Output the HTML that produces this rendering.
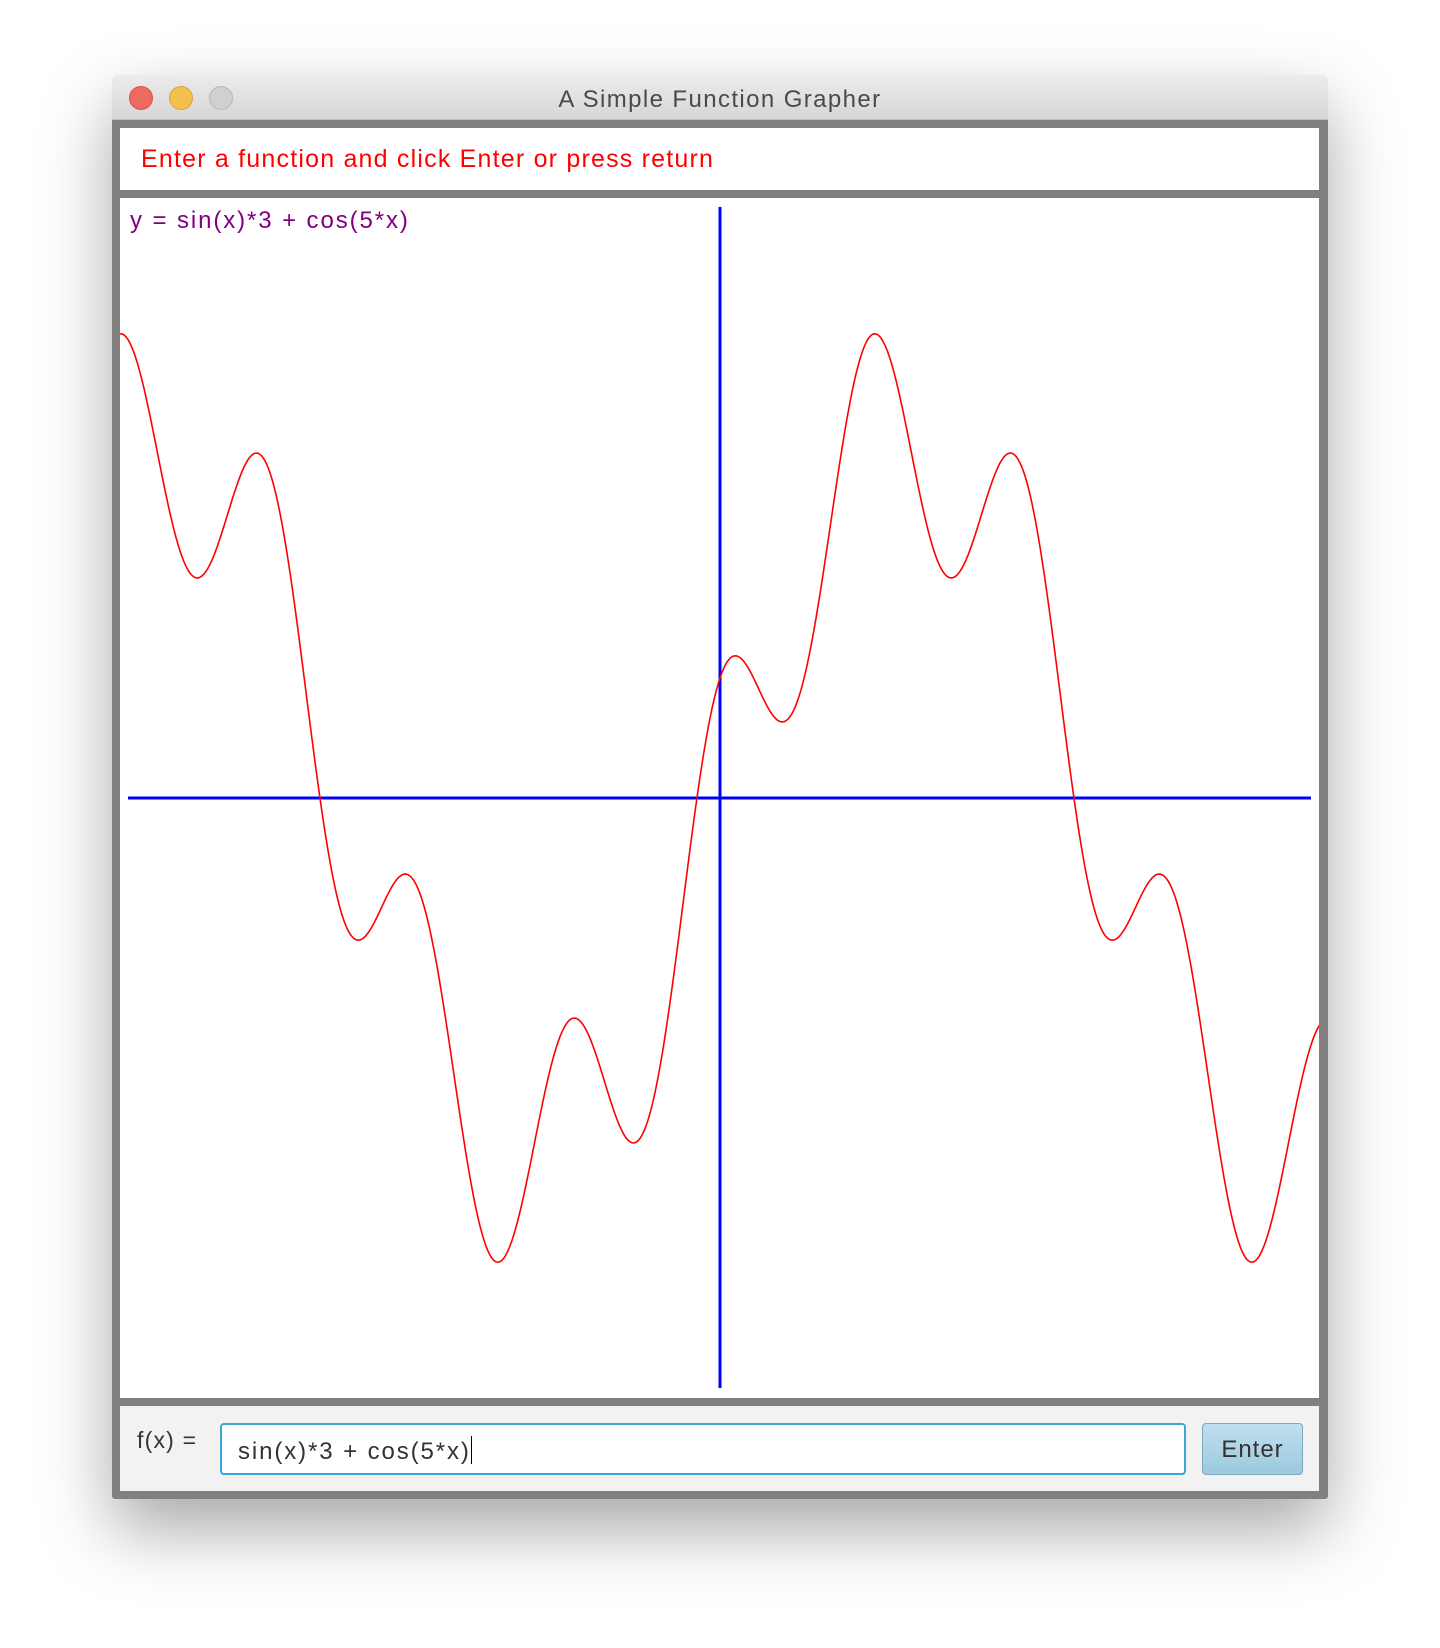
<!DOCTYPE html>
<html><head><meta charset="utf-8"><style>
body{margin:0;width:1440px;height:1648px;background:#fff;position:relative;overflow:hidden;font-family:"Liberation Sans",sans-serif}
#win{position:absolute;left:112px;top:75px;width:1216px;height:1424px;box-shadow:0 30px 70px rgba(0,0,0,0.35);border-radius:8px 8px 3px 3px;background:#808080}
#titlebar{position:absolute;left:0;top:0;width:1216px;height:44px;background:linear-gradient(#ececec,#d6d6d6);border-radius:8px 8px 0 0;border-bottom:1px solid #bdbdbd}
.tl{position:absolute;top:11px;width:22px;height:22px;border-radius:50%}
#title{position:absolute;left:0;width:100%;top:11px;text-align:center;font-size:24px;color:#4a4a4a;letter-spacing:1.4px}
#msg{position:absolute;left:8px;top:53px;width:1199px;height:62px;background:#fff}
#msg span{position:absolute;left:21px;top:17px;font-size:25px;color:#f00;letter-spacing:1.2px}
#graph{position:absolute;left:8px;top:123px;width:1199px;height:1200px;background:#fff;overflow:hidden}
#bottom{position:absolute;left:8px;top:1331px;width:1199px;height:85px;background:#f2f2f2}
</style></head><body>
<div id="win">
 <div id="titlebar">
  <div class="tl" style="left:17px;background:#ed6a5e;border:1px solid #d4524a"></div>
  <div class="tl" style="left:57px;background:#f5bf4f;border:1px solid #d9a33e"></div>
  <div class="tl" style="left:97px;background:#d0d0d0;border:1px solid #b8b8b8"></div>
  <div id="title">A Simple Function Grapher</div>
 </div>
 <div id="msg"><span>Enter a function and click Enter or press return</span></div>
 <div id="graph">
  <svg id="svg" width="1199" height="1200" style="position:absolute;left:0;top:0">
   <text x="10" y="30" font-size="24" letter-spacing="1.9" fill="#800080" font-family="Liberation Sans, sans-serif">y = sin(x)*3 + cos(5*x)</text>
  </svg>
 </div>
 <div id="bottom">
  <div style="position:absolute;left:17px;top:21px;font-size:23px;color:#333;letter-spacing:1.2px">f(x) =</div>
  <div style="position:absolute;left:100px;top:17px;border:2px solid #3aa6d8;border-radius:4px;box-sizing:border-box;width:966px;height:52px;background:#fff;font-size:24px;color:#333;padding:11px 0 0 16px;letter-spacing:1.9px">sin(x)*3 + cos(5*x)<span style="display:inline-block;width:1.5px;height:28px;background:#000;vertical-align:-5px"></span></div>
  <div style="position:absolute;left:1082px;top:17px;width:101px;height:52px;box-sizing:border-box;border:1px solid #7fa8bf;border-radius:4px;background:linear-gradient(#bfe0ef,#9cc9de);font-size:24px;color:#333;text-align:center;line-height:52px;letter-spacing:1px">Enter</div>
 </div>
</div>
<script>
const xDomain = [-5, 5];
const yDomain = [-5, 5];
const expression = "sin(x)*3 + cos(5*x)";
const sampleCount = [600];

const sx = v => 600 + (v - (xDomain[0] + xDomain[1]) / 2) * (1200 / (xDomain[1] - xDomain[0]));
const sy = v => 600 - (v - (yDomain[0] + yDomain[1]) / 2) * (1200 / (yDomain[1] - yDomain[0]));
const f = new Function('x', 'with(Math){return ' + expression + ';}');
const svg = document.getElementById('svg');
const NS = 'http://www.w3.org/2000/svg';

const xa = document.createElementNS(NS, 'line');
xa.setAttribute('x1', 8); xa.setAttribute('x2', 1191);
xa.setAttribute('y1', sy(0)); xa.setAttribute('y2', sy(0));
xa.setAttribute('stroke', '#0000ff'); xa.setAttribute('stroke-width', 3);


svg.appendChild(xa);

const ya = document.createElementNS(NS, 'line');
ya.setAttribute('y1', 9); ya.setAttribute('y2', 1190);
ya.setAttribute('x1', sx(0)); ya.setAttribute('x2', sx(0));
ya.setAttribute('stroke', '#0000ff'); ya.setAttribute('stroke-width', 3);


svg.appendChild(ya);

let d = '';
const n = sampleCount[0];
for (let i = 0; i <= n; i++) {
  const x = xDomain[0] + (xDomain[1] - xDomain[0]) * i / n;
  d += (i ? 'L' : 'M') + sx(x).toFixed(2) + ' ' + sy(f(x)).toFixed(2);
}
const p = document.createElementNS(NS, 'path');
p.setAttribute('d', d);
p.setAttribute('fill', 'none');
p.setAttribute('stroke', '#ff0000');
p.setAttribute('stroke-width', 1.6);


svg.appendChild(p);
</script>
</body></html>
